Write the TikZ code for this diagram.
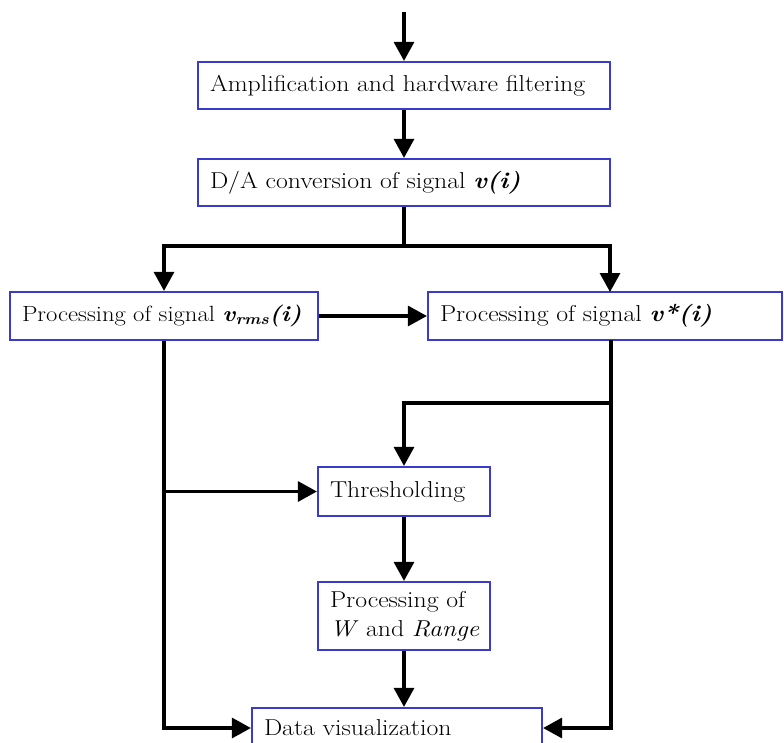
\documentclass[tikz,border=0pt]{standalone}
\usepackage{fontspec}
\setmainfont{Latin Modern Roman}[FakeStretch=1.12]
\usetikzlibrary{arrows.meta}
\definecolor{boxblue}{RGB}{58,58,204}
\hfuzz=100pt
\tikzset{
  blk/.style={draw=boxblue, line width=2.2pt, fill=white, inner xsep=12pt, inner ysep=0pt, align=left, font=\fontsize{23}{29}\selectfont},
  conn/.style={line width=3.2pt, draw=black},
  arr/.style={conn, -{Triangle[length=19pt,width=20pt]}}
}
\begin{document}
\begin{tikzpicture}[x=1pt,y=1pt]
\useasboundingbox (0,0) rectangle (784,-742);
\clip (0,0) rectangle (784,-742);
\node[blk, minimum height=47pt, text width=388pt] (b1) at (404,-85.5) {\mbox{Amplification and hardware filtering}};
\node[blk, minimum height=47pt, text width=388pt] (b2) at (404,-182.5) {\mbox{D/A conversion of signal \textbf{\textit{v(i)}}}};
\node[blk, minimum height=48pt, text width=284pt, font=\fontsize{22}{28}\selectfont] (lb) at (164,-316) {\mbox{Processing of signal \textbf{\textit{v\textsubscript{rms}(i)}}}};
\node[blk, minimum height=48pt, text width=330pt] (rb) at (605,-316) {\mbox{Processing of signal \textbf{\textit{v*(i)}}}};
\node[blk, minimum height=49pt, text width=148pt] (th) at (404,-491.5) {\mbox{Thresholding}};
\node[blk, minimum height=68pt, text width=148pt] (wr) at (404,-616) {\mbox{Processing of}\\\mbox{\textit{W} and \textit{Range}}};
\node[blk, minimum height=40pt, text width=266pt] (dv) at (397,-728) {\mbox{Data visualization}};
\coordinate (start) at (404,-12);
\coordinate (split) at (404,-246);
\coordinate (rtop) at (610,-292);
\coordinate (rbot) at (611,-340);
\coordinate (rj) at (611,-403);
\draw[arr] (start) -- (b1.north);
\draw[arr] (b1.south) -- (b2.north);
\draw[conn] (b2.south) -- (split);
\draw[arr] (split) -| (lb.north);
\draw[arr] (split) -| (rtop);
\draw[arr] (lb.east) -- (rb.west);
\draw[arr] (lb.south) |- (dv.west);
\draw[arr] (lb.south |- th.west) -- (th.west);
\draw[arr] (rbot) |- (dv.east);
\draw[arr] (rj) -| (th.north);
\draw[arr] (th.south) -- (wr.north);
\draw[arr] (wr.south) -- (wr.south |- dv.north);
\end{tikzpicture}
\end{document}
